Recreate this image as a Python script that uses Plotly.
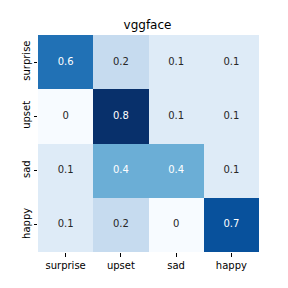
import plotly.graph_objects as go

categories = ["surprise", "upset", "sad", "happy"]
values = [
    [0.6, 0.2, 0.1, 0.1],
    [0.0, 0.8, 0.1, 0.1],
    [0.1, 0.4, 0.4, 0.1],
    [0.1, 0.2, 0.0, 0.7],
]
title = "vggface"

blues = ["#f7fbff", "#deebf7", "#c6dbef", "#9ecae1", "#6baed6",
         "#4292c6", "#2171b5", "#08519c", "#08306b"]
colorscale = [[i / 8, c] for i, c in enumerate(blues)]
vmin, vmax = 0.0, 0.8

fig = go.Figure()
fig.add_trace(go.Heatmap(
    z=values, x=categories, y=categories,
    colorscale=colorscale, zmin=vmin, zmax=vmax,
    showscale=False, xgap=0, ygap=0, hoverinfo="skip",
))

tx, ty, tt, tc = [], [], [], []
for i, row in enumerate(values):
    for j, v in enumerate(row):
        tx.append(categories[j])
        ty.append(categories[i])
        tt.append(f"{v:g}")
        tc.append("#ffffff" if v >= 0.35 else "#262626")
fig.add_trace(go.Scatter(
    x=tx, y=ty, text=tt, mode="text",
    textfont=dict(color=tc, size=10, family="DejaVu Sans"),
    hoverinfo="skip", showlegend=False,
))

n = len(categories)
W = H = 280  # page body has an 8px margin
fig.update_layout(
    width=W, height=H,
    margin=dict(l=28, r=29, t=27, b=36),
    paper_bgcolor="white", plot_bgcolor="white",
    font=dict(family="DejaVu Sans", size=10, color="#000000"),
    title=dict(text=title, x=(147.5 - 8) / W, xanchor="center", y=1 - 17 / H, yanchor="middle",
               font=dict(size=12, family="DejaVu Sans", color="#000000")),
    showlegend=False,
)
fig.update_xaxes(showgrid=False, zeroline=False, showline=False,
                 range=[-0.5, n - 0.5], autorange=False,
                 ticks="outside", ticklen=3.5, tickwidth=0.8, tickcolor="#000000",
                 tickfont=dict(size=10))
fig.update_yaxes(showgrid=False, zeroline=False, showline=False,
                 range=[n - 0.5, -0.5], autorange=False,
                 ticks="outside", ticklen=3.5, tickwidth=0.8, tickcolor="#000000",
                 tickangle=-90, tickfont=dict(size=10))

fig.write_html("out.html")
